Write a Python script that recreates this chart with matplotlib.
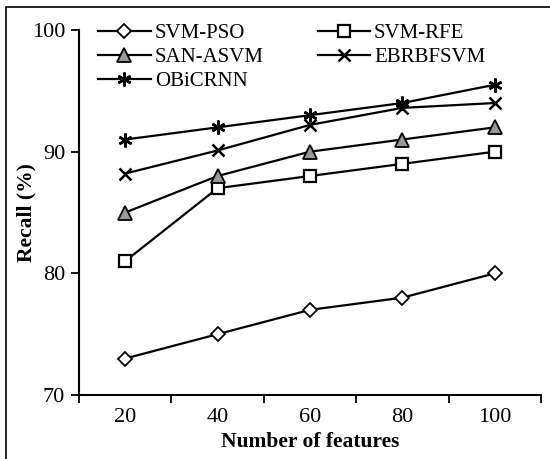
import matplotlib
matplotlib.use('Agg')
import matplotlib.pyplot as plt
from matplotlib.patches import Rectangle

plt.rcParams['font.family'] = ['Liberation Serif', 'DejaVu Serif']

features = ['20', '40', '60', '80', '100']
svm_pso = [73, 75, 77, 78, 80]
svm_rfe = [81, 87, 88, 89, 90]
san_asvm = [85, 88, 90, 91, 92]
ebrbfsvm = [88.2, 90.1, 92.2, 93.6, 94.0]
obicrnn = [91, 92, 93, 94, 95.5]

fig = plt.figure(figsize=(5.5, 4.59), dpi=100)
ax = fig.add_axes([0.1436, 0.1394, 0.84, 0.7952])

x = range(1, len(features) + 1)
lw = 1.6
ms = 9
h1, = ax.plot(x, svm_pso, '-', color='black', lw=lw, marker='D', ms=7.5,
              mfc='white', mec='black', mew=1.3, label='SVM-PSO')
h2, = ax.plot(x, svm_rfe, '-', color='black', lw=lw, marker='s', ms=ms,
              mfc='white', mec='black', mew=1.6, label='SVM-RFE')
h3, = ax.plot(x, san_asvm, '-', color='black', lw=lw, marker='^', ms=ms + 1,
              mfc='#999999', mec='black', mew=1.3, label='SAN-ASVM')
h4, = ax.plot(x, ebrbfsvm, '-', color='black', lw=lw, marker='x', ms=ms,
              mec='black', mew=1.8, label='EBRBFSVM')
h5, = ax.plot(x, obicrnn, '-', color='black', lw=lw, marker=(6, 2, 0), ms=ms + 1,
              mec='black', mew=1.8, label='OBiCRNN')

ax.set_xlim(0.5, 5.5)
ax.set_ylim(70, 100)
ax.set_yticks([70, 80, 90, 100])
ax.set_xticks([0.5, 1.5, 2.5, 3.5, 4.5, 5.5])
ax.set_xticklabels([])
ax.set_xticks(list(x), minor=True)
ax.set_xticklabels(features, minor=True)
ax.tick_params(axis='x', which='major', direction='out', length=6, width=1.3)
ax.tick_params(axis='x', which='minor', length=0, pad=9, labelsize=16)
ax.tick_params(axis='y', direction='out', length=6, width=1.3, pad=4, labelsize=16)
for s in ['top', 'right']:
    ax.spines[s].set_visible(False)
for s in ['left', 'bottom']:
    ax.spines[s].set_linewidth(1.5)

ax.set_xlabel('Number of features', fontsize=15.5, fontweight='bold', labelpad=4)
ax.set_ylabel('Recall (%)', fontsize=15.5, fontweight='bold')
ax.yaxis.set_label_coords(-0.092, 0.5)

fig.legend(handles=[h1, h3, h5, h2, h4], loc='upper left', ncol=2,
           bbox_to_anchor=(0.16, 0.972), frameon=False, fontsize=15,
           handlelength=2.5, handletextpad=0.2, columnspacing=2.6,
           labelspacing=0.22, borderpad=0)

fig.patches.append(Rectangle((0.011, -0.1), 1.2, 1.085, transform=fig.transFigure,
                             fill=False, edgecolor='black', lw=1.2))

fig.savefig('out.png', dpi=100)
